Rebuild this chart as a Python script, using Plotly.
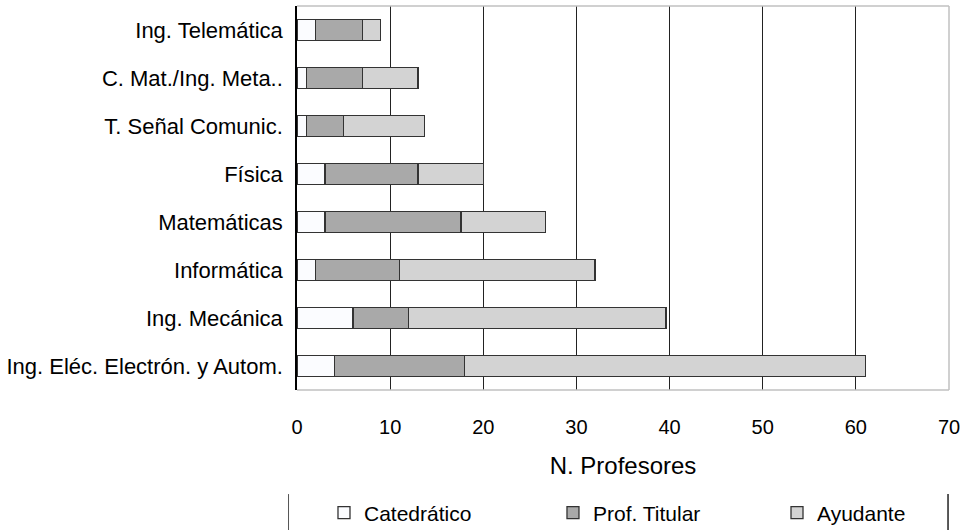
import plotly.graph_objects as go

categories = ["Ing. Telemática", "C. Mat./Ing. Meta..", "T. Señal Comunic.", "Física",
              "Matemáticas", "Informática", "Ing. Mecánica", "Ing. Eléc. Electrón. y Autom."]
catedratico = [2, 1, 1, 3, 3, 2, 6, 4]
titular = [5, 6, 4, 10, 14.6, 9, 6, 14]
ayudante = [2, 6, 8.7, 7, 9.1, 21, 27.6, 43]
series_names = ["Catedrático", "Prof. Titular", "Ayudante"]
series_colors = ["#fbfcff", "#a9a9a9", "#d3d3d3"]
x_ticks = [0, 10, 20, 30, 40, 50, 60, 70]

FONT = "Liberation Sans, Arial, sans-serif"
legend_ids = ["legend", "legend2", "legend3"]
legend_x = [0.0414, 0.3926, 0.7362]

fig = go.Figure()
for name, vals, col, lid in zip(series_names, [catedratico, titular, ayudante], series_colors, legend_ids):
    fig.add_trace(go.Bar(
        y=categories, x=vals, name=name, orientation="h", legend=lid,
        marker=dict(color=col, line=dict(color="#333333", width=1.3)),
    ))

legend_common = dict(orientation="h", xanchor="left", yref="container", y=0.032, yanchor="middle",
                     font=dict(size=21, family=FONT), bgcolor="rgba(0,0,0,0)")

fig.update_layout(
    barmode="stack",
    bargap=0.56,
    width=972, height=530,
    margin=dict(l=297, r=23, t=6, b=140),
    plot_bgcolor="white", paper_bgcolor="white",
    font=dict(family=FONT, color="#000000"),
    showlegend=True,
    legend=dict(x=legend_x[0], **legend_common),
    legend2=dict(x=legend_x[1], **legend_common),
    legend3=dict(x=legend_x[2], **legend_common),
    xaxis=dict(range=[0, 70], tickvals=x_ticks, showgrid=True, gridcolor="#222222", gridwidth=1.3,
               zeroline=False, showline=False, ticks="", tickfont=dict(size=20, family=FONT),
               ticklabelstandoff=23,
               title=dict(text="N. Profesores", font=dict(size=24, family=FONT), standoff=20)),
    yaxis=dict(autorange="reversed", showline=True, linecolor="#000000", linewidth=1.5,
               showgrid=False, ticks="", tickfont=dict(size=22, family=FONT), ticklabelstandoff=8),
)

# light frame on top, right, bottom
frame = "#c0c0c0"
fig.add_shape(type="line", xref="paper", yref="paper", x0=0, x1=1, y0=1, y1=1, line=dict(color=frame, width=1.5))
fig.add_shape(type="line", xref="paper", yref="paper", x0=1, x1=1, y0=0, y1=1, line=dict(color=frame, width=1.5))
fig.add_shape(type="line", xref="paper", yref="paper", x0=0, x1=1, y0=0, y1=0, line=dict(color=frame, width=1.5))
# legend side lines
fig.add_shape(type="line", xref="paper", yref="paper", x0=-0.013, x1=-0.013, y0=-0.271, y1=-0.365,
              line=dict(color="#555555", width=1))
fig.add_shape(type="line", xref="paper", yref="paper", x0=0.9985, x1=0.9985, y0=-0.271, y1=-0.365,
              line=dict(color="#000000", width=1.3))

fig.write_html("out.html", config={"displayModeBar": False},
               post_script="document.body.style.margin='0';")
